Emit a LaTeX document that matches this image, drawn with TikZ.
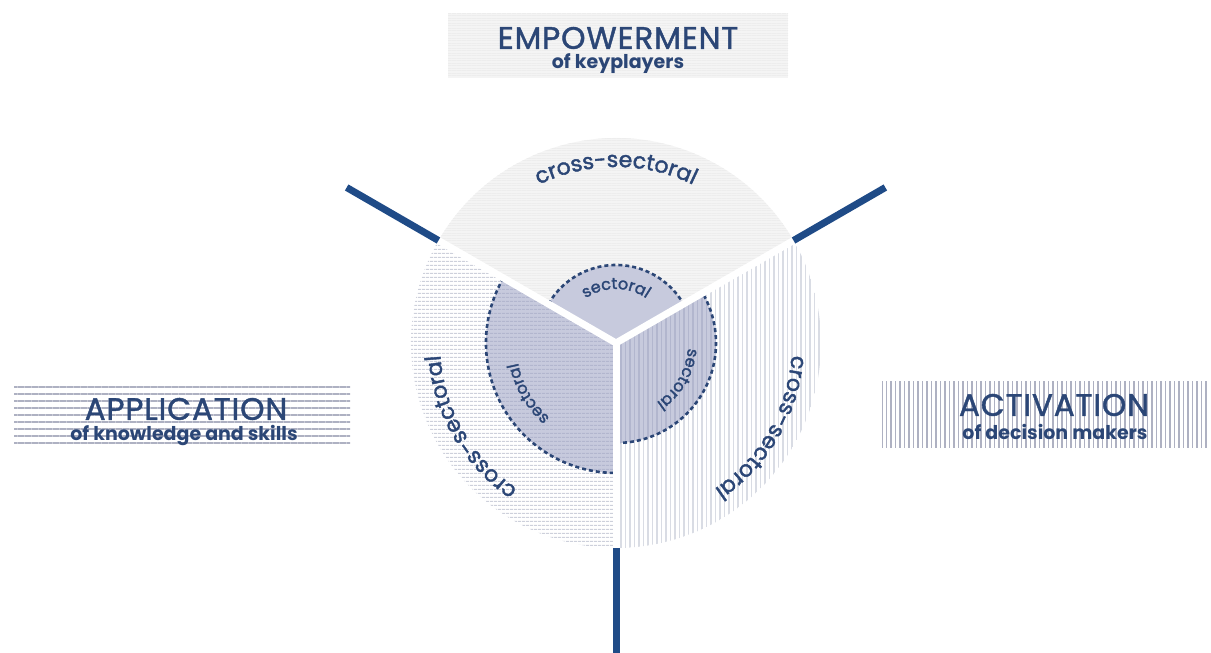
\documentclass[tikz,border=0pt]{standalone}
\usepackage{fontspec}
\setmainfont{Poppins}
\newfontfamily\medfont{Poppins}[FakeBold=1.8]
\newfontfamily\headfont{Poppins}[FakeBold=1.4, LetterSpace=3]
\usetikzlibrary{patterns.meta,decorations.text}
\definecolor{navy}{HTML}{2B4676}
\definecolor{spokeblue}{HTML}{1F4B87}
\definecolor{innerfill}{HTML}{C7CADD}
\definecolor{innerline}{HTML}{B2B6CE}
\definecolor{hatch}{HTML}{CDD0DB}
\definecolor{boxline}{HTML}{AEB1C2}

\begin{document}
\begin{tikzpicture}[x=1pt,y=1pt]
   \tikzstyle{spoke}=[spokeblue, line width=7pt]
   \tikzstyle{gap}=[white, line width=7pt]
   \tikzstyle{dashedge}=[navy, line width=2.6pt, dash pattern=on 4pt off 3pt]
   \tikzstyle{hlines}=[pattern={Lines[angle=0,distance=4pt,line width=1.3pt]}, pattern color=hatch]
   \tikzstyle{vlines}=[pattern={Lines[angle=90,distance=4.5pt,line width=1.1pt]}, pattern color=hatch!75]
   \tikzstyle{fine}=[pattern={Lines[angle=0,distance=2.5pt,line width=0.5pt]}, pattern color=gray!14]
   \tikzstyle{title}=[text=navy, font=\headfont\fontsize{31}{31}\selectfont]
   \tikzstyle{sub}=[text=navy, font=\fontsize{19}{19}\selectfont\bfseries]
   \tikzstyle{arctext}=[decorate, decoration={text along path, text align=center, #1}]
   \newcommand{\outerfont}{\medfont\fontsize{22}{22}\selectfont\color{navy}}
   \newcommand{\innerfont}{\medfont\fontsize{16}{16}\selectfont\color{navy}}

\useasboundingbox (0,0) rectangle (1211,653);
\coordinate (c) at (616,310);

\fill[gray!9] (c) -- ++(150:205) arc (150:30:205) -- cycle;
\path[fine] (c) -- ++(150:205) arc (150:30:205) -- cycle;
\path[hlines] (c) -- ++(150:205) arc (150:270:205) -- cycle;
\path[vlines] (c) -- ++(270:205) arc (270:390:205) -- cycle;

\fill[innerfill] (c) -- ++(150:78) arc (150:30:78) -- cycle;
\fill[innerfill] (c) -- ++(150:130) arc (150:270:130) -- cycle;
\path[hlines, pattern color=innerline] (c) -- ++(150:130) arc (150:270:130) -- cycle;
\fill[innerfill] (c) -- ++(270:100) arc (270:390:100) -- cycle;
\path[vlines, pattern color=innerline] (c) -- ++(270:100) arc (270:390:100) -- cycle;

\draw[dashedge] (c) ++(150:78) arc (150:30:78);
\draw[dashedge] (c) ++(150:130) arc (150:270:130);
\draw[dashedge] (c) ++(270:100) arc (270:390:100);

\foreach \a in {30,150,270}
    \draw[gap] (c) -- ++(\a:208);
\foreach \a in {30,150,270}
    \draw[spoke] (c) ++(\a:205) -- ++(\a:106);

\path[arctext={text={|\outerfont|cross-sectoral}}] (c) ++(150:176) arc (150:30:176);
\path[arctext={text={|\outerfont|cross-sectoral}}] (c) ++(270:176) arc (270:150:176);
\path[arctext={text={|\outerfont|cross-sectoral}}] (c) ++(30:176) arc (30:-90:176);
\path[arctext={text={|\innerfont|sectoral}}] (c) ++(150:54) arc (150:30:54);
\path[arctext={text={|\innerfont|sectoral}}] (c) ++(270:100) arc (270:150:100);
\path[arctext={text={|\innerfont|sectoral}}] (c) ++(30:72) arc (30:-90:72);

\node[minimum width=340, minimum height=64, preaction={fill=gray!9}, fine] (empbox) at (618,607) {};
\node[title] (emptitle) at ([yshift=8]empbox.center) {EMPOWERMENT};
\node[sub] (empsub) at ([yshift=-18]empbox.center) {of keyplayers};

\node[minimum width=336, minimum height=60, pattern={Lines[angle=0,distance=7pt,line width=1.6pt]}, pattern color=boxline] (appbox) at (182,237) {};
\node[title] (apptitle) at (186,244) {APPLICATION};
\node[sub] (appsub) at (184,217) {of knowledge and skills};

\node[minimum width=326, minimum height=66, pattern={Lines[angle=90,distance=4.5pt,line width=1.4pt]}, pattern color=boxline] (actbox) at (1045,238) {};
\node[title] (acttitle) at (1054,248) {ACTIVATION};
\node[sub] (actsub) at (1055,221) {of decision makers};

\end{tikzpicture}
\end{document}
